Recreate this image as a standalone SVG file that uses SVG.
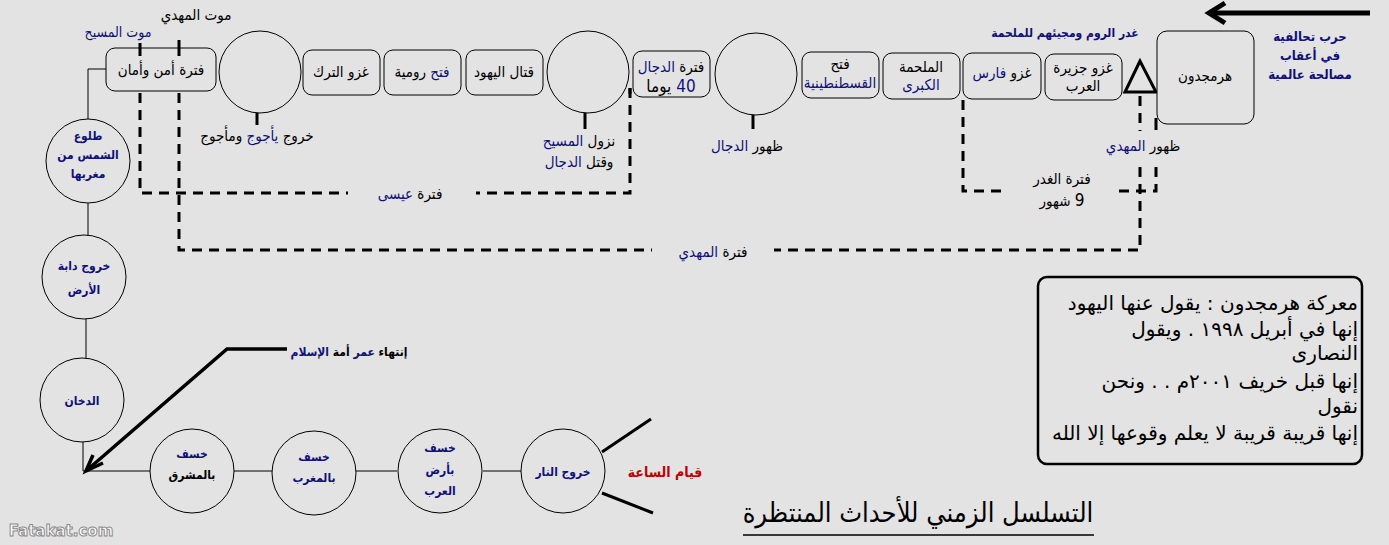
<svg xmlns="http://www.w3.org/2000/svg" width="1389" height="545" viewBox="0 0 1389 545">
<style>
.bg{fill:#e3e3e3}
.nd{fill:#e3e3e3;stroke:#000;stroke-width:1}
.ln{fill:none;stroke:#000;stroke-width:1}
.th{fill:none;stroke:#000;stroke-width:3}
.ds{fill:none;stroke:#000;stroke-width:3;stroke-dasharray:10 7}
text{font-family:"DejaVu Sans Condensed","DejaVu Sans",sans-serif;direction:rtl;text-anchor:middle;fill:#000}
.s{font-size:15px}
.b{font-weight:bold;font-size:12px}
.n{fill:#10107a}
.r{fill:#c00000}
.nt{font-family:"DejaVu Sans",sans-serif;font-size:20px;text-anchor:start}
.wm{direction:ltr;font-family:"DejaVu Sans",sans-serif;font-size:15px;font-weight:bold;fill:#fff;stroke:#8a8a8a;stroke-width:1}
</style>
<rect class="bg" x="0" y="0" width="1389" height="545"/>

<g id="connectors">
  <path class="ln" d="M106,69 H88 V120"/>
  <line class="ln" x1="88" y1="203" x2="88" y2="236"/>
  <line class="ln" x1="86" y1="318" x2="86" y2="358"/>
  <path class="ln" d="M83,442 V471 H150"/>
  <line class="ln" x1="234" y1="471" x2="272" y2="471"/>
  <line class="ln" x1="356" y1="471" x2="397" y2="471"/>
  <line class="ln" x1="483" y1="471" x2="521" y2="471"/>
  <line class="th" x1="257" y1="113" x2="257" y2="125"/>
  <line class="th" x1="585" y1="113" x2="585" y2="129"/>
  <line class="th" x1="753" y1="115" x2="753" y2="129"/>
  <path class="ds" d="M140,93 V193 H348"/>
  <path class="ds" d="M630,88 V193 H476"/>
  <path class="ds" d="M179,93 V250 H652"/>
  <path class="ds" d="M1140,167 V250 H774"/>
  <line class="ds" x1="1140" y1="96" x2="1140" y2="131"/>
  <path class="ds" d="M963,100 V191 H1005"/>
  <path class="ds" d="M1156,167 V191 H1116"/>
  <line class="th" x1="1156" y1="118" x2="1156" y2="130"/>
  <polyline class="th" points="287,349 227,349 86,471" style="stroke-width:3.5"/>
  <polyline class="th" points="93,455 86,471 103,463" style="stroke-width:3.5"/>
  <line class="th" x1="602" y1="452" x2="651" y2="419"/>
  <line class="th" x1="602" y1="493" x2="653" y2="513"/>
  <line x1="1370" y1="13" x2="1210" y2="13" style="stroke:#000;stroke-width:5"/>
  <polyline points="1225,3 1209,13 1225,23" style="fill:none;stroke:#000;stroke-width:5"/>
  <polygon points="1140,61 1125,92 1156,92" style="fill:none;stroke:#000;stroke-width:3"/>
</g>

<g id="n-amn"><rect class="nd" x="106" y="48" width="110" height="43" rx="9"/><text class="s" x="161" y="75">فترة أمن وأمان</text></g>
<line class="th" x1="140" y1="43" x2="140" y2="56"/>
<line class="th" x1="179" y1="40" x2="179" y2="56"/>
<g id="n-yajuj"><circle class="nd" cx="260" cy="72" r="41"/><text class="s" x="257" y="141">خروج <tspan class="n">يأجوج</tspan> ومأجوج</text></g>
<g id="n-turk"><rect class="nd" x="303" y="50" width="77" height="45" rx="9"/><text class="s" x="341" y="77">غزو الترك</text></g>
<g id="n-roma"><rect class="nd" x="384" y="50" width="77" height="45" rx="9"/><text class="s" x="422" y="77"><tspan class="n">فتح</tspan> رومية</text></g>
<g id="n-yahud"><rect class="nd" x="466" y="50" width="77" height="45" rx="9"/><text class="s" x="504" y="77">قتال اليهود</text></g>
<g id="n-masih"><circle class="nd" cx="588" cy="72" r="41"/><text class="s" x="579" y="146">نزول <tspan class="n">المسيح</tspan></text><text class="s" x="579" y="167">وقتل <tspan class="n">الدجال</tspan></text></g>
<g id="n-dajjal40"><rect class="nd" x="633" y="51" width="77" height="46" rx="9"/><text class="s" x="671" y="72">فترة <tspan class="n">الدجال</tspan></text><text x="671" y="92" style="font-size:17px"><tspan class="n">40</tspan> يوما</text></g>
<line class="th" x1="630" y1="88" x2="630" y2="94"/>
<g id="n-dajjal"><circle class="nd" cx="756" cy="74" r="41"/><text class="s" x="747" y="151">ظهور <tspan class="n">الدجال</tspan></text></g>
<g id="n-qust"><rect class="nd" x="802" y="52" width="77" height="46" rx="9"/><text class="s" x="840" y="69">فتح</text><text class="s n" x="840" y="88">القسطنطينية</text></g>
<g id="n-malhama"><rect class="nd" x="883" y="53" width="77" height="46" rx="9"/><text class="s" x="921" y="72">الملحمة</text><text class="s n" x="921" y="90">الكبرى</text></g>
<g id="n-faris"><rect class="nd" x="963" y="53" width="78" height="46" rx="9"/><text class="s" x="1002" y="78">غزو <tspan class="n">فارس</tspan></text></g>
<g id="n-jazira"><rect class="nd" x="1045" y="54" width="77" height="46" rx="9"/><text class="s" x="1083" y="73">غزو جزيرة</text><text class="s" x="1083" y="91">العرب</text></g>
<g id="n-harmajedon"><rect class="nd" x="1157" y="31" width="97" height="93" rx="10"/><text class="s" x="1205" y="81">هرمجدون</text></g>

<g id="labels">
  <text class="s" x="196" y="20">موت المهدي</text>
  <text class="n" x="118" y="37" style="font-size:14px">موت المسيح</text>
  <text class="b n" x="1065" y="37">غدر الروم ومجيئهم للملحمة</text>
  <text class="b n" x="1310" y="41" style="font-size:13px">حرب تحالفية</text>
  <text class="b n" x="1310" y="60" style="font-size:13px">في أعقاب</text>
  <text class="b n" x="1310" y="79" style="font-size:13px">مصالحة عالمية</text>
  <text class="s" x="1143" y="151">ظهور <tspan class="n">المهدي</tspan></text>
  <text class="s" x="1062" y="184">فترة الغدر</text>
  <text class="s" x="1062" y="206"><tspan style="font-size:17px">9</tspan> شهور</text>
  <text class="s" x="410" y="199">فترة <tspan class="n">عيسى</tspan></text>
  <text class="s" x="713" y="257">فترة <tspan class="n">المهدي</tspan></text>
  <text class="b" x="349" y="356">إنتهاء <tspan class="n">عمر</tspan> أمة <tspan class="n">الإسلام</tspan></text>
  <text class="r" x="665" y="477" style="font-size:14px;font-weight:bold">قيام الساعة</text>
</g>

<g id="n-shams"><circle class="nd" cx="88" cy="161" r="42"/><text class="b n" x="88" y="140">طلوع</text><text class="b n" x="88" y="159">الشمس من</text><text class="b n" x="88" y="178">مغربها</text></g>
<g id="n-dabba"><circle class="nd" cx="84" cy="277" r="42"/><text class="b n" x="84" y="270">خروج دابة</text><text class="b n" x="84" y="294">الأرض</text></g>
<g id="n-dukhan"><circle class="nd" cx="82" cy="400" r="42"/><text class="b n" x="82" y="405">الدخان</text></g>
<g id="n-khasf1"><circle class="nd" cx="192" cy="471" r="42"/><text class="b n" x="192" y="458">خسف</text><text class="b" x="192" y="479">بالمشرق</text></g>
<g id="n-khasf2"><circle class="nd" cx="314" cy="473" r="42"/><text class="b n" x="314" y="461">خسف</text><text class="b n" x="314" y="482">بالمغرب</text></g>
<g id="n-khasf3"><circle class="nd" cx="440" cy="471" r="42"/><text class="b n" x="440" y="452">خسف</text><text class="b n" x="440" y="474">بأرض</text><text class="b n" x="440" y="495">العرب</text></g>
<g id="n-nar"><circle class="nd" cx="563" cy="471" r="42"/><text class="b n" x="563" y="476">خروج النار</text></g>

<g id="note">
  <rect x="1038" y="277" width="324" height="187" rx="9" style="fill:none;stroke:#000;stroke-width:2.5"/>
  <text class="nt" x="1358" y="310">معركة هرمجدون : يقول عنها اليهود</text>
  <text class="nt" x="1358" y="336">إنها في أبريل ١٩٩٨ . ويقول</text>
  <text class="nt" x="1358" y="360">النصارى</text>
  <text class="nt" x="1358" y="388">إنها قبل خريف ٢٠٠١م . . ونحن</text>
  <text class="nt" x="1358" y="413">نقول</text>
  <text class="nt" x="1358" y="440">إنها قريبة قريبة لا يعلم وقوعها إلا الله</text>
</g>

<g id="title">
  <text x="918" y="522" style="font-size:27px">التسلسل الزمني للأحداث المنتظرة</text>
  <line x1="743" y1="535" x2="1094" y2="535" style="stroke:#000;stroke-width:1.5"/>
</g>

<text class="wm" x="61" y="536">Fatakat.com</text>
</svg>
